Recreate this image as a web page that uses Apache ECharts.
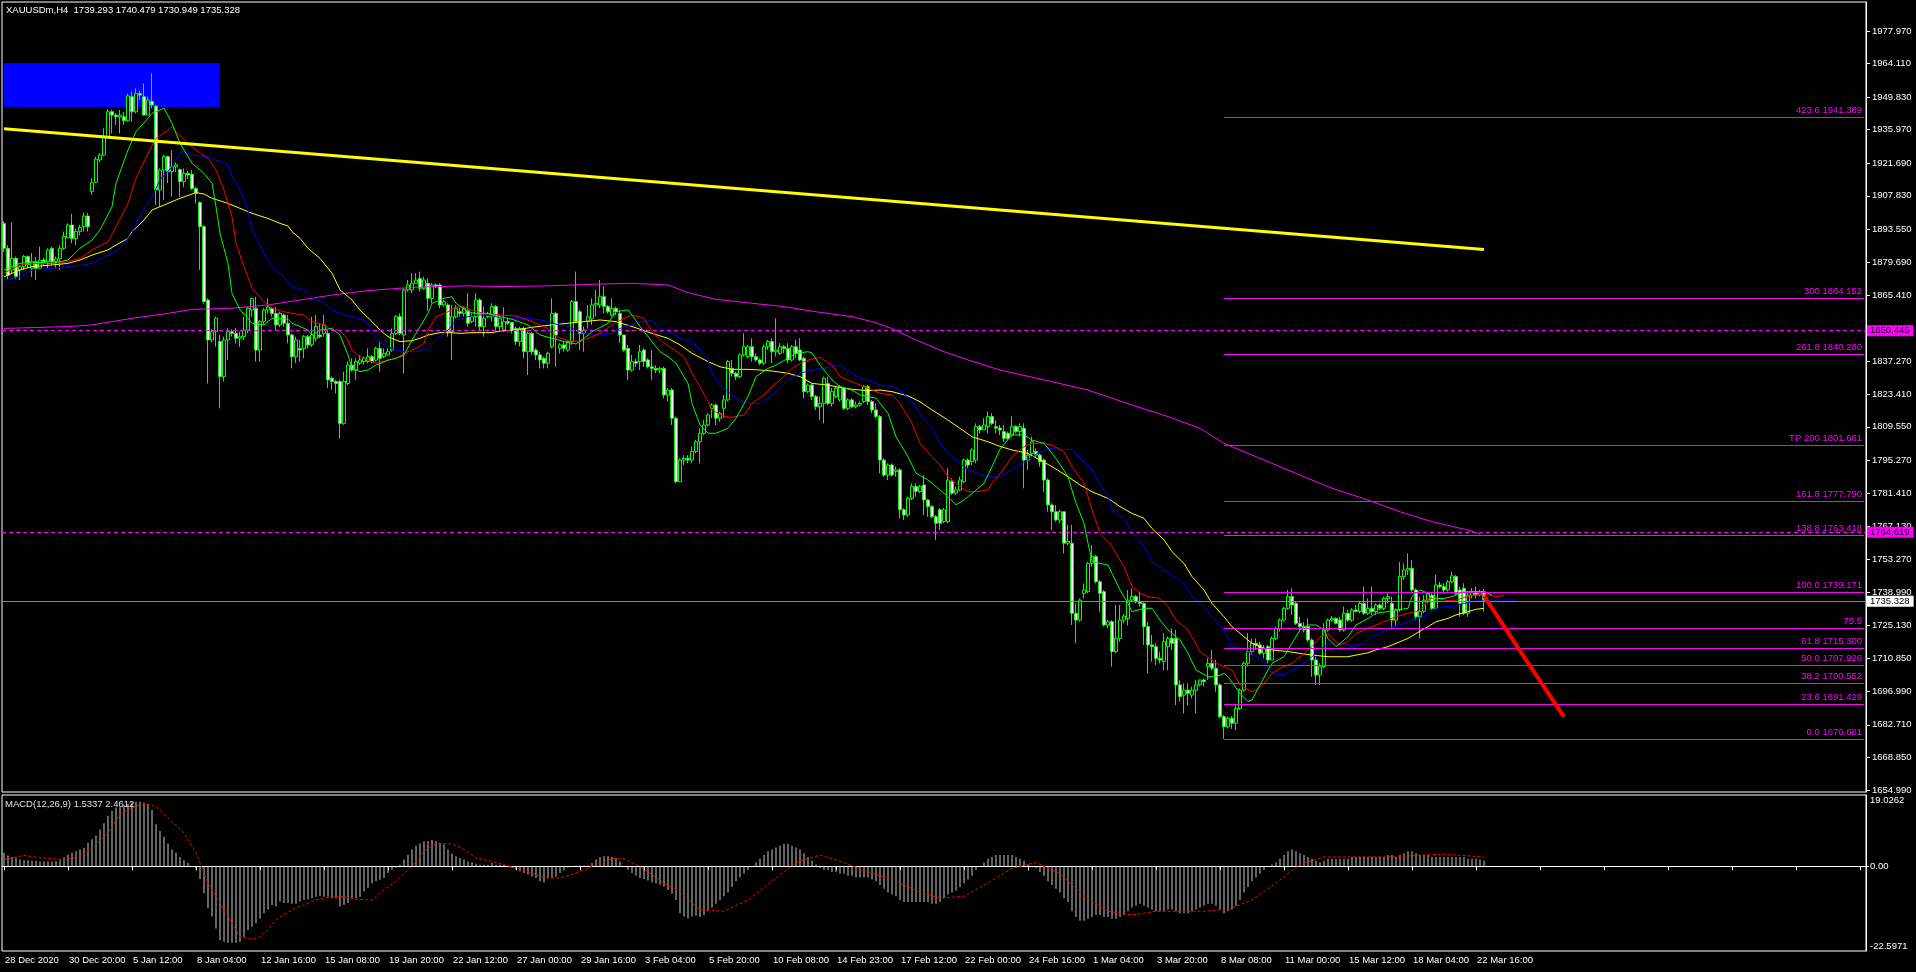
<!DOCTYPE html>
<html><head><meta charset="utf-8">
<script src="https://cdn.jsdelivr.net/npm/echarts@6/dist/echarts.min.js"></script>
<style>html,body{margin:0;padding:0;background:#000}#c{width:1916px;height:972px}</style>
</head><body><div id="c"></div>
<script>
const symbolName = 'XAUUSDm,H4';
const barCount = 466;
const dateLabels = ['28 Dec 2020','30 Dec 20:00','5 Jan 12:00','8 Jan 04:00','12 Jan 16:00','15 Jan 08:00','19 Jan 20:00','22 Jan 12:00','27 Jan 00:00','29 Jan 16:00','3 Feb 04:00','5 Feb 20:00','10 Feb 08:00','14 Feb 23:00','17 Feb 12:00','22 Feb 00:00','24 Feb 16:00','1 Mar 04:00','3 Mar 20:00','8 Mar 08:00','11 Mar 00:00','15 Mar 12:00','18 Mar 04:00','22 Mar 16:00'];
const priceTicks = [1977.970,1964.110,1949.830,1935.970,1921.690,1907.830,1893.550,1879.690,1865.410,1851.130,1837.270,1823.410,1809.550,1795.270,1781.410,1767.130,1753.270,1738.990,1725.130,1710.850,1696.990,1682.710,1668.850,1654.990];
const macdTicks = [-22.5971, 0, 19.0262];

// [open, close, low, high]
const candles = [
[1896.1,1885.5,1884.0,1897.0],[1885.5,1874.0,1872.0,1886.9],[1876.3,1881.2,1874.9,1896.6],[1881.2,1873.4,1872.5,1882.0],[1876.3,1877.7,1872.0,1878.4],
[1877.7,1882.0,1876.3,1882.7],[1882.0,1878.6,1877.0,1882.5],[1877.0,1879.8,1873.4,1883.4],[1879.8,1877.0,1872.0,1881.9],[1877.0,1880.5,1876.3,1886.2],
[1880.5,1879.8,1878.0,1881.5],[1879.8,1884.8,1877.0,1885.5],[1885.5,1879.8,1878.4,1886.2],[1879.8,1881.0,1877.0,1882.0],[1881.0,1885.5,1876.3,1886.9],
[1885.5,1890.5,1884.8,1892.6],[1890.0,1895.4,1889.7,1896.1],[1895.4,1889.7,1887.6,1900.1],[1889.7,1892.6,1886.9,1894.0],[1892.6,1894.4,1891.0,1895.5],
[1894.7,1899.2,1892.6,1900.7],[1899.2,1894.7,1892.6,1900.4],[1909.6,1913.4,1908.2,1915.3],[1913.6,1923.4,1913.2,1924.5],[1923.1,1925.2,1922.0,1926.0],
[1925.2,1933.0,1924.8,1936.6],[1933.0,1943.6,1932.3,1944.6],[1943.6,1942.2,1934.4,1944.4],[1942.2,1941.5,1938.0,1943.0],[1941.5,1942.2,1934.4,1944.4],
[1941.5,1939.8,1938.0,1943.6],[1939.8,1950.3,1939.4,1951.4],[1950.0,1943.6,1939.4,1952.2],[1943.6,1951.4,1942.9,1953.6],[1951.4,1950.7,1948.6,1952.6],
[1950.0,1942.2,1942.0,1955.7],[1942.2,1948.6,1942.2,1950.0],[1948.0,1946.5,1945.0,1960.0],[1946.0,1910.3,1904.0,1946.5],[1910.3,1918.8,1903.2,1919.5],
[1918.8,1924.5,1906.0,1925.2],[1924.5,1918.1,1913.2,1924.9],[1918.1,1920.2,1907.5,1927.3],[1920.2,1921.0,1918.0,1922.0],[1919.0,1913.9,1907.5,1919.5],
[1913.9,1917.4,1911.5,1919.5],[1917.4,1916.7,1915.0,1918.5],[1917.0,1911.0,1910.3,1918.8],[1911.0,1908.9,1904.6,1911.7],[1905.0,1894.7,1876.3,1905.5],
[1894.7,1862.8,1862.0,1895.4],[1863.5,1846.5,1828.0,1864.2],[1846.5,1850.0,1845.5,1851.0],[1850.0,1855.7,1843.7,1856.4],[1845.8,1830.9,1817.4,1848.6],
[1830.9,1846.5,1828.8,1847.9],[1846.5,1850.0,1838.0,1851.5],[1850.0,1849.3,1848.0,1851.0],[1849.3,1847.2,1845.0,1851.5],[1847.2,1847.9,1843.6,1850.0],
[1847.9,1850.7,1846.5,1856.4],[1850.7,1860.0,1849.3,1860.6],[1859.3,1864.2,1856.4,1864.5],[1860.0,1842.2,1837.3,1864.9],[1842.2,1854.3,1837.3,1855.0],
[1854.3,1859.3,1853.0,1860.0],[1859.3,1860.6,1857.8,1864.2],[1860.0,1857.8,1856.4,1860.6],[1857.8,1852.9,1850.7,1860.6],[1852.9,1857.8,1852.0,1858.5],
[1857.1,1853.6,1852.2,1857.8],[1853.6,1848.6,1845.1,1857.1],[1848.6,1839.4,1834.4,1849.3],[1839.4,1846.5,1836.6,1847.9],[1842.9,1842.2,1837.3,1846.5],
[1842.9,1847.9,1838.7,1848.6],[1847.9,1844.4,1842.9,1848.6],[1844.4,1848.6,1843.6,1856.4],[1847.2,1852.2,1845.8,1857.1],[1848.6,1847.9,1847.2,1853.6],
[1849.3,1852.9,1847.9,1857.1],[1849.3,1829.5,1826.0,1850.7],[1830.2,1828.8,1825.3,1831.0],[1828.8,1828.0,1823.8,1829.5],[1828.8,1811.0,1804.6,1829.5],
[1811.0,1828.8,1810.3,1833.0],[1828.0,1835.8,1827.3,1837.3],[1835.8,1833.7,1833.0,1838.7],[1833.7,1837.3,1829.5,1838.7],[1836.6,1838.0,1835.8,1840.1],
[1837.3,1838.7,1836.0,1839.5],[1837.3,1839.4,1836.6,1842.9],[1839.4,1837.3,1836.6,1840.1],[1837.9,1842.9,1837.3,1843.6],[1842.9,1838.7,1833.0,1845.8],
[1839.4,1840.8,1838.7,1842.9],[1840.1,1841.5,1840.1,1842.9],[1842.2,1849.3,1841.5,1851.4],[1849.3,1856.4,1848.6,1857.1],[1856.4,1849.3,1848.6,1857.8],
[1848.6,1867.8,1832.3,1868.5],[1867.8,1869.9,1867.1,1872.0],[1867.8,1870.6,1866.4,1874.9],[1870.6,1872.0,1870.6,1874.9],[1872.7,1868.5,1867.1,1875.6],
[1868.5,1872.0,1867.8,1873.4],[1870.6,1864.2,1858.9,1872.7],[1864.2,1869.9,1862.1,1870.6],[1869.9,1869.2,1868.5,1870.6],[1869.9,1861.4,1860.0,1870.6],
[1861.4,1862.8,1860.7,1863.5],[1861.4,1850.0,1847.9,1862.1],[1850.0,1856.4,1838.0,1861.4],[1856.4,1860.0,1855.7,1861.4],[1858.5,1857.8,1856.4,1860.0],
[1857.8,1860.0,1856.4,1860.7],[1858.9,1853.6,1852.2,1866.4],[1854.3,1856.4,1853.6,1857.8],[1856.4,1863.5,1852.2,1866.4],[1863.5,1852.2,1850.7,1864.2],
[1852.2,1855.7,1847.9,1860.7],[1856.4,1857.8,1855.7,1858.5],[1856.4,1860.7,1854.3,1862.1],[1860.7,1852.2,1850.7,1861.4],[1852.2,1855.7,1850.0,1857.0],
[1850.7,1854.3,1850.0,1860.4],[1854.3,1853.6,1852.9,1855.7],[1853.9,1850.7,1849.3,1854.3],[1851.4,1845.8,1844.4,1852.2],[1845.8,1851.4,1843.7,1852.2],
[1851.4,1841.5,1838.7,1852.2],[1841.5,1849.3,1831.6,1850.0],[1849.3,1841.5,1840.1,1850.0],[1842.2,1840.1,1838.0,1843.0],[1840.1,1838.0,1834.4,1841.5],
[1838.7,1836.6,1834.4,1839.4],[1836.6,1840.8,1834.4,1841.5],[1843.6,1857.8,1842.9,1864.2],[1857.8,1848.6,1835.1,1858.5],[1843.0,1844.4,1840.8,1845.1],
[1844.4,1843.0,1841.5,1845.8],[1842.2,1845.8,1841.5,1846.5],[1845.8,1862.8,1844.4,1863.5],[1862.8,1854.3,1853.6,1875.6],[1858.5,1849.3,1842.2,1859.3],
[1849.3,1850.7,1841.5,1852.2],[1854.3,1856.4,1851.4,1861.4],[1855.7,1861.4,1852.9,1864.2],[1861.4,1862.1,1856.4,1867.8],[1861.4,1864.9,1860.0,1872.0],
[1864.9,1860.7,1857.8,1869.2],[1860.7,1858.5,1857.8,1861.4],[1857.1,1859.9,1856.4,1864.2],[1859.9,1858.5,1857.1,1860.7],[1857.8,1848.6,1845.1,1859.3],
[1848.6,1842.2,1841.5,1848.6],[1842.9,1833.7,1829.5,1844.4],[1833.7,1837.3,1833.0,1840.1],[1837.3,1836.6,1835.0,1838.5],[1837.3,1841.5,1833.7,1844.4],
[1842.2,1837.3,1835.1,1842.9],[1838.0,1835.1,1834.4,1838.7],[1835.1,1834.4,1829.5,1842.2],[1834.4,1833.7,1832.3,1835.8],[1833.7,1834.4,1832.3,1835.1],
[1834.4,1823.1,1821.7,1835.1],[1823.1,1825.2,1820.3,1826.0],[1825.2,1813.2,1810.3,1826.0],[1813.2,1786.2,1785.5,1813.9],[1786.2,1795.4,1786.0,1796.1],
[1795.4,1796.1,1793.3,1797.5],[1796.1,1795.4,1794.0,1797.5],[1795.4,1799.0,1794.0,1801.1],[1799.0,1803.2,1798.3,1804.0],[1803.2,1806.8,1794.0,1808.9],
[1806.8,1810.3,1806.0,1812.4],[1810.3,1814.6,1809.6,1815.3],[1817.4,1818.8,1813.2,1819.5],[1818.8,1813.2,1810.3,1819.5],[1813.2,1815.3,1811.7,1816.0],
[1817.4,1821.0,1813.2,1823.1],[1821.0,1837.3,1820.3,1838.0],[1834.4,1832.3,1830.9,1838.0],[1832.3,1830.9,1829.5,1833.0],[1830.9,1840.1,1830.2,1840.8],
[1840.1,1843.6,1839.4,1849.3],[1839.4,1843.6,1838.7,1844.4],[1843.6,1839.4,1837.3,1847.2],[1839.4,1838.0,1837.3,1840.8],[1838.0,1836.6,1835.8,1838.7],
[1836.6,1843.6,1835.8,1844.4],[1843.6,1845.8,1842.2,1846.5],[1845.8,1841.5,1836.6,1847.2],[1841.5,1842.2,1839.4,1855.7],[1840.8,1843.6,1840.1,1845.1],
[1843.6,1842.9,1840.8,1844.4],[1842.9,1838.0,1836.6,1845.1],[1838.0,1843.6,1837.3,1844.4],[1843.6,1840.8,1838.7,1846.5],[1842.2,1838.0,1837.5,1847.2],
[1838.7,1824.5,1821.7,1839.4],[1824.5,1827.3,1823.8,1828.0],[1827.3,1822.4,1821.0,1828.0],[1822.4,1818.1,1816.7,1823.1],[1818.1,1819.5,1812.4,1822.4],
[1819.5,1830.2,1811.0,1830.9],[1828.0,1819.5,1818.8,1830.9],[1819.5,1824.5,1818.1,1826.0],[1822.4,1826.0,1821.7,1826.6],[1821.0,1826.6,1820.3,1827.3],
[1826.0,1817.4,1816.7,1826.6],[1817.4,1821.0,1816.7,1821.7],[1821.0,1818.1,1817.4,1821.7],[1818.1,1818.8,1817.4,1820.3],[1818.8,1819.5,1818.1,1820.3],
[1820.3,1826.6,1819.5,1827.3],[1826.6,1820.3,1818.8,1827.3],[1820.3,1816.7,1815.3,1821.0],[1816.7,1813.9,1813.2,1819.5],[1813.9,1795.4,1789.8,1814.6],
[1795.4,1789.0,1788.3,1796.1],[1789.0,1793.3,1786.9,1794.0],[1793.3,1789.0,1788.3,1794.0],[1790.5,1791.2,1788.3,1792.6],[1791.2,1774.2,1770.6,1791.9],
[1774.2,1772.0,1769.9,1774.9],[1772.0,1779.1,1771.3,1779.8],[1779.1,1784.1,1778.4,1785.5],[1784.1,1782.0,1779.8,1785.5],[1782.0,1784.1,1781.3,1784.8],
[1784.8,1778.4,1772.0,1789.0],[1778.4,1775.6,1771.3,1778.9],[1775.6,1771.3,1770.6,1776.3],[1771.3,1768.5,1761.4,1772.0],[1774.2,1768.5,1765.6,1774.9],
[1769.2,1774.2,1768.5,1775.0],[1769.2,1786.9,1768.5,1791.9],[1786.2,1781.3,1780.6,1787.6],[1781.3,1782.7,1780.6,1784.1],[1782.7,1786.9,1782.0,1788.3],
[1786.2,1795.4,1785.5,1796.1],[1795.4,1793.3,1792.0,1796.1],[1794.7,1799.7,1793.3,1800.4],[1795.4,1809.6,1794.0,1811.0],[1809.6,1808.2,1806.8,1810.3],
[1808.2,1810.3,1808.2,1813.2],[1809.6,1813.9,1806.8,1816.0],[1813.9,1811.0,1810.3,1815.3],[1809.6,1809.0,1806.8,1812.4],[1809.0,1808.2,1806.0,1810.3],
[1807.5,1804.6,1803.2,1810.3],[1806.8,1804.6,1803.9,1807.5],[1806.0,1809.6,1805.3,1813.9],[1809.6,1807.5,1806.8,1810.3],[1807.5,1809.6,1805.3,1811.0],
[1808.9,1795.4,1783.4,1811.0],[1795.4,1797.5,1791.2,1799.7],[1798.2,1803.2,1796.8,1805.3],[1799.0,1797.5,1796.8,1800.4],[1797.5,1794.7,1792.6,1798.2],
[1795.4,1786.9,1781.9,1796.1],[1786.9,1776.3,1773.4,1787.6],[1776.3,1773.4,1765.6,1777.0],[1773.4,1769.9,1769.2,1776.3],[1769.9,1773.4,1768.5,1774.2],
[1773.4,1760.0,1755.7,1773.4],[1760.0,1760.7,1759.2,1767.8],[1760.0,1730.2,1725.2,1767.8],[1730.2,1727.3,1717.4,1734.4],[1727.3,1735.8,1726.6,1736.5],
[1738.7,1740.1,1736.5,1742.9],[1739.4,1751.4,1738.7,1752.1],[1751.4,1754.3,1750.0,1759.2],[1754.3,1743.6,1742.9,1755.0],[1743.6,1738.7,1730.9,1744.4],
[1739.4,1725.2,1724.5,1740.1],[1725.2,1726.6,1723.8,1727.3],[1726.6,1713.9,1707.5,1727.3],[1713.9,1719.5,1713.2,1733.7],[1719.5,1727.3,1718.1,1733.7],
[1727.3,1729.0,1725.9,1730.0],[1728.0,1735.8,1725.0,1740.1],[1735.8,1737.3,1735.0,1740.8],[1737.3,1735.1,1734.4,1738.0],[1735.1,1734.4,1733.0,1739.4],
[1734.4,1724.5,1716.7,1734.9],[1724.5,1716.7,1704.6,1726.6],[1716.7,1716.0,1709.6,1721.0],[1716.0,1711.0,1708.2,1717.4],[1711.0,1710.3,1708.9,1713.9],
[1709.6,1718.1,1706.0,1721.7],[1716.0,1719.5,1706.0,1720.3],[1719.5,1717.4,1714.6,1723.8],[1719.5,1699.7,1691.1,1723.1],[1699.7,1694.7,1692.6,1701.7],
[1695.4,1697.5,1687.6,1700.4],[1697.5,1696.1,1691.1,1700.4],[1695.4,1697.5,1694.0,1699.0],[1697.5,1699.7,1687.6,1701.8],[1699.7,1701.8,1699.0,1702.0],
[1701.8,1701.1,1699.0,1702.5],[1707.5,1708.9,1701.8,1711.0],[1708.9,1706.8,1706.0,1714.6],[1706.8,1699.7,1696.8,1710.3],[1699.7,1686.2,1685.5,1700.4],
[1686.2,1681.9,1676.7,1686.9],[1681.9,1685.5,1681.2,1686.2],[1685.5,1683.4,1681.0,1686.5],[1683.4,1689.7,1680.5,1691.1],[1689.7,1697.5,1689.0,1698.2],
[1697.5,1708.9,1696.8,1709.6],[1708.9,1713.9,1707.5,1721.7],[1713.9,1717.4,1712.5,1719.5],[1717.4,1716.7,1714.6,1719.5],[1716.7,1713.2,1712.5,1718.1],
[1713.2,1715.3,1711.0,1716.7],[1716.0,1710.3,1708.9,1716.7],[1710.3,1719.5,1710.3,1720.3],[1719.5,1723.8,1718.8,1724.5],[1723.8,1727.3,1722.4,1728.0],
[1727.3,1732.3,1726.6,1733.0],[1732.3,1737.3,1731.6,1740.1],[1737.3,1733.7,1729.5,1740.8],[1734.4,1725.9,1725.2,1735.1],[1725.9,1724.5,1722.4,1728.7],
[1724.5,1723.1,1722.0,1726.5],[1724.5,1718.8,1718.1,1728.0],[1718.8,1710.3,1703.2,1719.5],[1710.3,1703.9,1699.7,1711.7],[1703.9,1707.5,1699.7,1708.9],
[1707.5,1723.1,1706.8,1725.9],[1723.1,1727.3,1722.4,1728.0],[1727.3,1728.0,1726.5,1729.0],[1728.0,1725.9,1725.5,1728.5],[1727.3,1723.1,1722.4,1728.7],
[1723.1,1730.2,1722.4,1733.0],[1730.2,1727.3,1726.6,1731.6],[1727.3,1731.6,1726.6,1732.3],[1731.6,1731.0,1730.5,1733.7],[1731.0,1734.4,1730.2,1735.1],
[1734.4,1730.2,1729.5,1741.5],[1730.2,1732.3,1729.5,1736.5],[1732.3,1730.9,1729.5,1741.5],[1730.9,1733.7,1729.5,1734.4],[1733.7,1732.3,1731.6,1734.4],
[1732.3,1736.5,1731.6,1737.3],[1736.5,1737.3,1734.4,1738.7],[1734.4,1727.3,1723.8,1737.3],[1727.3,1731.6,1724.5,1732.3],[1731.6,1745.8,1730.9,1752.1],
[1745.8,1748.6,1744.4,1751.4],[1748.6,1749.3,1746.5,1755.7],[1749.3,1740.1,1739.4,1752.8],[1740.1,1728.7,1727.3,1740.8],[1728.7,1731.0,1719.5,1737.3],
[1731.0,1735.8,1730.2,1737.9],[1735.8,1738.7,1734.4,1739.4],[1737.9,1732.3,1731.6,1738.7],[1732.3,1742.2,1731.6,1746.5],[1742.2,1741.5,1740.8,1743.6],
[1741.5,1740.1,1738.7,1742.9],[1740.1,1743.6,1739.4,1744.4],[1743.6,1746.1,1742.9,1747.9],[1745.8,1738.7,1738.0,1746.5],[1740.1,1734.4,1728.7,1741.5],
[1740.8,1730.2,1729.5,1743.0],[1730.2,1737.9,1728.7,1738.7],[1737.9,1739.4,1736.5,1740.8],[1739.4,1738.0,1736.5,1741.5],[1738.0,1739.3,1737.3,1740.1],
[1739.293,1735.328,1730.949,1740.479]
];

// moving averages [barIndex, price]
const maGreen = [[0,1876.3],[4,1879.1],[7,1879.7],[12,1879.1],[16,1880.5],[19,1885.5],[22,1889.0],[24,1893.3],[27,1903.2],[28,1913.2],[31,1927.3],[33,1935.1],[36,1940.8],[37,1942.9],[40,1945.1],[42,1938.7],[44,1930.2],[47,1921.7],[50,1917.4],[52,1913.2],[53,1903.2],[54,1891.9],[56,1879.1],[57,1866.3],[59,1859.3],[61,1855.7],[62,1853.6],[65,1852.9],[67,1855.7],[71,1855.3],[72,1853.6],[74,1852.2],[76,1850.7],[77,1848.6],[79,1850.7],[82,1851.4],[84,1848.6],[86,1840.1],[87,1834.4],[89,1833.0],[91,1833.7],[93,1835.8],[96,1837.9],[98,1838.7],[100,1840.1],[102,1846.5],[104,1852.2],[106,1857.8],[107,1862.1],[110,1864.2],[112,1864.9],[113,1862.1],[116,1858.5],[118,1857.8],[121,1857.8],[124,1856.4],[127,1855.3],[131,1852.9],[134,1848.6],[137,1847.2],[141,1845.4],[143,1844.8],[145,1847.2],[147,1850.0],[151,1853.6],[153,1858.5],[156,1859.3],[157,1857.1],[159,1852.2],[162,1845.8],[164,1841.5],[166,1839.4],[168,1836.6],[171,1828.0],[172,1819.5],[174,1810.3],[176,1806.8],[178,1806.8],[181,1808.9],[183,1813.2],[186,1822.4],[188,1830.9],[191,1834.4],[193,1835.8],[196,1838.7],[198,1840.8],[201,1841.5],[202,1841.0],[204,1835.8],[207,1829.5],[209,1826.6],[212,1825.2],[214,1823.1],[216,1822.4],[218,1821.7],[221,1815.3],[223,1805.3],[226,1796.8],[228,1789.8],[231,1786.9],[233,1784.1],[236,1779.8],[238,1776.3],[240,1778.4],[242,1781.2],[245,1785.5],[247,1792.6],[249,1800.0],[252,1806.1],[255,1806.1],[257,1803.9],[260,1802.5],[263,1796.1],[266,1788.3],[268,1777.0],[270,1768.5],[271,1760.0],[272,1752.2],[274,1751.4],[276,1750.7],[277,1747.2],[279,1740.1],[281,1734.4],[282,1730.9],[285,1732.3],[287,1732.3],[289,1727.3],[291,1723.1],[294,1718.8],[296,1713.1],[298,1706.1],[301,1703.2],[303,1703.2],[305,1704.6],[306,1703.2],[309,1696.1],[311,1692.6],[312,1693.3],[314,1699.7],[316,1706.1],[317,1708.9],[320,1711.7],[321,1714.6],[324,1723.1],[326,1725.2],[328,1725.2],[330,1723.1],[331,1719.5],[333,1716.0],[336,1720.2],[338,1725.2],[341,1728.0],[343,1730.2],[346,1730.9],[348,1731.6],[351,1732.3],[352,1737.3],[354,1740.1],[356,1738.7],[357,1736.5],[360,1736.5],[362,1737.3],[365,1739.4],[367,1739.4],[370,1739.4],[372,1738.0]];
const maRed = [[0,1874.9],[4,1878.4],[7,1879.1],[12,1879.1],[16,1879.8],[19,1881.2],[22,1884.8],[26,1888.3],[28,1894.7],[31,1904.6],[33,1915.3],[36,1925.9],[38,1932.3],[41,1935.8],[42,1937.3],[43,1935.1],[46,1930.2],[48,1927.3],[51,1923.8],[53,1918.8],[55,1910.3],[57,1899.0],[58,1887.6],[60,1877.7],[62,1868.5],[65,1862.8],[67,1860.0],[70,1858.5],[72,1857.8],[75,1857.1],[77,1854.3],[80,1852.9],[82,1850.7],[84,1850.7],[86,1846.5],[87,1842.2],[89,1839.4],[91,1837.9],[93,1836.6],[96,1837.9],[98,1838.7],[101,1841.5],[103,1842.9],[105,1845.1],[106,1850.7],[108,1856.4],[111,1858.5],[113,1860.6],[115,1860.6],[117,1859.2],[120,1857.8],[124,1857.1],[128,1856.7],[132,1854.3],[136,1851.4],[138,1847.9],[141,1846.2],[144,1845.8],[147,1847.9],[149,1849.3],[152,1852.9],[155,1855.7],[157,1857.1],[160,1855.7],[162,1850.0],[165,1845.1],[167,1842.9],[170,1839.4],[172,1832.3],[174,1826.6],[176,1820.2],[177,1816.7],[180,1813.9],[182,1813.6],[185,1814.6],[187,1819.5],[190,1823.1],[192,1826.6],[195,1830.9],[197,1834.4],[200,1837.3],[202,1838.3],[204,1839.1],[207,1835.8],[209,1830.9],[212,1828.7],[214,1827.3],[217,1825.2],[219,1823.8],[222,1823.1],[224,1819.5],[227,1811.0],[229,1802.5],[232,1796.8],[234,1793.3],[236,1788.3],[239,1784.1],[241,1781.9],[243,1781.9],[246,1782.7],[247,1785.5],[249,1789.5],[252,1796.8],[255,1801.1],[257,1802.5],[260,1802.5],[262,1801.8],[265,1798.9],[267,1792.6],[270,1785.5],[272,1774.1],[274,1764.2],[276,1760.7],[277,1758.5],[280,1750.0],[282,1741.5],[284,1738.7],[286,1737.3],[289,1736.5],[291,1733.0],[293,1727.3],[296,1723.1],[299,1713.9],[302,1710.3],[304,1708.2],[307,1706.0],[309,1699.7],[312,1696.8],[313,1697.5],[315,1700.4],[317,1704.6],[319,1706.8],[322,1708.9],[324,1711.7],[327,1716.0],[329,1720.2],[331,1721.4],[332,1719.5],[334,1716.7],[336,1718.1],[338,1721.6],[341,1723.8],[343,1725.2],[346,1727.3],[348,1728.7],[351,1730.2],[353,1730.9],[355,1733.0],[356,1736.5],[358,1736.5],[361,1735.6],[363,1735.8],[366,1737.3],[368,1738.0],[371,1738.0],[373,1737.3],[375,1737.7]];
const maBlue = [[0,1872.0],[4,1873.4],[7,1876.3],[12,1877.0],[16,1877.7],[20,1878.4],[22,1879.1],[26,1882.6],[29,1885.5],[32,1891.9],[34,1899.7],[37,1907.5],[39,1914.6],[42,1920.2],[44,1925.9],[45,1926.6],[47,1925.2],[51,1924.5],[53,1923.1],[56,1920.9],[57,1916.0],[59,1910.3],[61,1901.8],[62,1893.3],[65,1883.4],[67,1877.7],[70,1873.4],[72,1869.2],[75,1867.8],[77,1864.9],[80,1862.1],[82,1859.2],[85,1857.1],[87,1856.4],[90,1855.0],[92,1851.4],[93,1846.5],[96,1843.6],[98,1842.2],[101,1841.5],[103,1841.5],[106,1842.9],[108,1846.5],[111,1850.7],[113,1855.0],[116,1856.4],[118,1857.1],[121,1857.1],[124,1856.0],[127,1855.7],[131,1855.7],[134,1855.0],[137,1853.6],[141,1852.2],[144,1850.0],[147,1848.6],[149,1848.6],[152,1849.3],[154,1851.4],[157,1852.9],[159,1854.3],[162,1854.7],[164,1851.4],[167,1849.3],[169,1847.2],[172,1845.8],[174,1842.2],[176,1838.0],[177,1832.3],[179,1827.3],[182,1823.1],[184,1820.9],[186,1819.5],[189,1819.5],[191,1821.7],[194,1825.9],[196,1829.5],[199,1832.3],[202,1833.7],[204,1834.4],[207,1835.1],[209,1835.8],[212,1832.3],[214,1830.2],[217,1828.8],[219,1827.3],[222,1826.6],[224,1825.2],[227,1820.2],[229,1815.3],[232,1808.9],[234,1802.5],[236,1798.3],[239,1794.0],[241,1791.2],[244,1789.5],[246,1788.3],[249,1788.0],[251,1790.4],[254,1793.3],[257,1796.8],[259,1798.9],[262,1800.4],[264,1799.7],[267,1800.0],[269,1796.1],[272,1791.2],[274,1784.8],[276,1779.8],[277,1774.1],[280,1770.6],[282,1764.9],[285,1758.5],[287,1752.2],[290,1748.6],[292,1746.5],[295,1742.9],[297,1737.3],[300,1733.0],[302,1728.7],[305,1723.1],[307,1716.0],[310,1715.3],[312,1713.1],[315,1709.6],[317,1704.6],[320,1703.9],[322,1706.0],[325,1708.9],[327,1711.7],[330,1716.0],[332,1717.4],[335,1717.4],[337,1716.0],[340,1717.4],[342,1720.2],[345,1722.4],[347,1724.5],[350,1725.9],[352,1727.3],[355,1728.7],[357,1731.6],[360,1733.0],[362,1733.0],[365,1734.4],[367,1735.1],[370,1735.8],[373,1735.8],[378,1735.8]];
const maYellow = [[0,1873.4],[4,1876.3],[7,1877.7],[12,1878.4],[16,1879.1],[19,1880.5],[22,1882.6],[26,1884.8],[28,1886.9],[31,1889.7],[32,1892.6],[35,1897.5],[37,1901.8],[41,1904.6],[44,1906.8],[47,1908.6],[48,1909.2],[50,1908.6],[52,1906.8],[56,1904.6],[59,1902.5],[62,1900.4],[66,1898.2],[69,1896.1],[71,1895.0],[72,1892.6],[74,1889.7],[76,1885.5],[79,1881.2],[82,1874.9],[84,1867.8],[87,1863.5],[89,1859.2],[92,1854.3],[94,1850.7],[96,1847.9],[99,1845.8],[102,1846.2],[104,1847.2],[106,1848.6],[109,1849.6],[112,1849.6],[114,1849.3],[117,1849.6],[122,1849.6],[124,1850.3],[128,1850.7],[132,1851.9],[137,1852.9],[141,1853.6],[145,1854.3],[149,1855.0],[153,1854.3],[157,1852.2],[162,1849.3],[166,1847.2],[169,1844.4],[172,1840.8],[176,1837.3],[179,1835.1],[182,1834.0],[186,1834.0],[189,1833.7],[192,1833.3],[196,1832.3],[199,1830.9],[202,1828.0],[206,1827.3],[209,1826.3],[212,1825.5],[216,1824.9],[219,1825.2],[222,1824.5],[226,1822.7],[229,1820.2],[232,1816.7],[236,1812.4],[239,1808.9],[242,1805.3],[246,1803.2],[249,1801.2],[252,1799.7],[256,1798.2],[259,1795.4],[262,1792.6],[266,1788.3],[269,1784.8],[272,1781.9],[276,1779.1],[279,1775.6],[282,1772.7],[285,1770.6],[287,1766.3],[290,1761.4],[292,1756.4],[295,1751.4],[297,1745.8],[300,1740.1],[302,1734.4],[305,1728.7],[307,1724.5],[310,1720.2],[312,1717.4],[315,1715.3],[317,1714.6],[321,1713.9],[324,1713.1],[327,1712.4],[331,1711.7],[336,1711.7],[338,1712.4],[341,1713.4],[343,1714.6],[346,1716.0],[348,1717.4],[351,1719.5],[353,1721.6],[356,1724.5],[358,1726.6],[361,1728.0],[363,1729.5],[366,1730.9],[368,1731.9],[370,1732.3]];
const maMagenta = [[0,1851.4],[16,1852.2],[22,1852.9],[32,1855.7],[41,1857.8],[47,1859.5],[57,1860.0],[66,1861.4],[74,1863.5],[82,1865.6],[91,1867.5],[99,1868.5],[107,1869.2],[116,1869.5],[124,1869.2],[136,1869.5],[149,1870.3],[157,1870.6],[166,1869.9],[171,1866.6],[178,1863.8],[187,1862.1],[195,1860.7],[203,1858.5],[212,1856.4],[217,1854.3],[222,1851.4],[228,1846.5],[235,1841.5],[241,1838.0],[249,1833.7],[260,1829.5],[271,1825.2],[282,1818.8],[291,1813.9],[299,1808.9],[305,1802.5],[316,1794.7],[324,1789.0],[332,1783.4],[341,1778.4],[349,1773.4],[357,1769.2],[366,1765.6],[369,1763.9]];

// MACD(12,26,9) main (histogram) and signal
const macdMain = [3.6,2.9,2.5,2.2,1.8,1.6,1.6,1.5,1.5,1.3,
1.3,1.3,1.3,1.4,1.6,2.4,3.1,3.6,4.0,4.5,
4.9,6.3,7.2,8.2,9.8,11.5,13.4,14.8,15.7,15.9,
16.3,16.6,17.0,17.2,17.2,17.0,16.6,15.0,11.2,9.4,
7.9,6.1,4.5,3.6,2.5,1.6,0.9,0.1,-0.9,-3.4,
-7.2,-11.2,-13.4,-16.6,-19.7,-20.1,-20.4,-20.4,-20.4,-20.1,
-18.8,-17.0,-16.1,-15.2,-13.9,-12.5,-11.5,-10.3,-10.7,-9.4,
-9.8,-9.8,-10.0,-10.0,-9.4,-9.0,-8.8,-8.5,-8.1,-7.9,
-8.1,-8.1,-8.5,-8.5,-10.7,-10.3,-9.8,-8.5,-8.5,-8.1,
-6.7,-5.8,-4.5,-4.0,-3.6,-3.1,-1.8,-0.9,-0.4,0.4,
1.8,3.1,4.5,5.5,6.1,6.7,6.7,7.0,6.7,6.3,
5.8,4.5,3.4,2.7,2.2,1.8,1.3,1.1,0.7,0.4,
0.4,0.4,0.9,0.4,0.4,0.4,0.0,-0.4,-0.9,-1.3,
-1.8,-2.2,-2.7,-3.1,-4.0,-4.3,-3.1,-3.1,-2.7,-1.8,
-1.1,-0.4,0.0,0.2,0.2,0.2,0.2,0.9,1.8,2.5,
2.7,2.7,2.5,2.2,1.3,0.0,-0.9,-1.8,-2.5,-3.1,
-3.4,-3.8,-4.3,-4.5,-4.9,-5.4,-6.3,-7.3,-9.0,-12.5,
-13.4,-13.9,-13.4,-13.2,
-13.5,-13,-12,-11,-10,-9,
-8,-7,-5.5,-4,-3,-2,-1,0,1,2,
3,4,4.5,5,5.5,6,6,5.5,5,4.5,
3.5,2.5,1.5,0.5,-0.5,-1,-1,-1.5,-1.5,-2,
-2,-2.5,-2.5,-3,-3,-3,-3,-3.5,-4,-5,
-6,-7,-7.5,-8,-9,-9.5,-9.5,-9.5,-9.5,-9.5,
-9.5,-9.5,-10,-10,-9.5,-8.5,-7.5,-7,-6.5,-5.5,
-4.5,-3.5,-2.5,-1,0,1,2,2.5,3,3,
3,3,3,2.5,2,1.5,0.5,0,-0.5,-1.5,
-2.5,-4,-5,-6,-7,-8.5,-9.5,-12,-13.5,-14.5,
-14.5,-14,-13.5,-13,-13,-13.5,-13.5,-14,-14,-13.5,
-13,-12,-11,-10.5,-10,-10.5,-11,-11.5,-12,-12,
-12,-11.5,-11.5,-12,-12.5,-12.5,-12.5,-12,-11.5,-11,
-10.5,-10,-10,-10.5,-11.5,-12.5,-12,-11.5,-10.5,-9,
-7,-5.5,-4,-3,-2,-1,0,0.5,1,2,
3,4,4.5,4,3.5,3,2.5,2,1.5,1,
1.5,2,2,2,2,2,2,2.5,2.5,2.5,
2.5,2.5,2.5,2.5,2.5,2.5,3,3,2.5,3,
3.5,4,4,3.5,3,3,3,2.5,2.5,2.5,
2.5,2.5,2.5,2.5,2.5,2.5,2,2,2,1.8,1.5337];
const macdSignal = [[0,1.8],[5,2.9],[10,2.2],[15,1.8],[19,2.5],[22,4.9],[26,8.9],[29,13.9],[33,16.1],[36,16.6],[38,15.9],[41,13.0],[45,8.9],[48,3.6],[51,-4.5],[55,-11.6],[57,-15.2],[59,-18.8],[62,-19.5],[64,-18.8],[66,-17.0],[68,-14.3],[72,-11.6],[75,-10.3],[78,-9.0],[82,-8.1],[85,-8.1],[88,-8.8],[92,-9.0],[95,-6.3],[98,-4.0],[102,0],[105,4.0],[108,6.1],[112,6.0],[115,4.5],[118,2.2],[122,1.3],[125,0.4],[128,-0.4],[132,-1.8],[135,-3.1],[139,-3.1],[142,-2.2],[145,-0.9],[149,0.9],[152,2.1],[155,2.0],[159,0],[162,-2.2],[165,-4.5],[169,-6.7],[172,-9.8],[174,-11.6],[180,-12],[186,-9],[192,-4],[198,1],[204,3],[210,1],[216,-1.5],[222,-3.5],[228,-6.5],[234,-8.5],[240,-8],[246,-4.5],[252,-0.5],[258,1],[264,-2],[270,-8],[276,-12],[282,-13],[288,-12],[294,-12],[300,-12],[306,-11.5],[312,-9],[318,-4.5],[324,0.5],[330,2.5],[336,2.5],[342,2.5],[348,2.5],[354,3],[360,3.2],[366,2.8],[370,2.4612]];

// objects
const trendLine = [[0,1936.4],[370,1885.0]];
const supplyZone = {from:0, to:54, top:1964.4, bottom:1945.6};
const fibStart = 305;
const fibNames = ['423.6 1941.389','300 1864.152','261.8 1840.280','TP 200 1801.661','161.8 1777.790','138.8 1763.418','100.0 1739.171','75.5','61.8 1715.300','50.0 1707.926','38.2 1700.552','23.6 1691.429','0.0 1676.681'];
const fibValues = [1941.389,1864.152,1840.280,1801.661,1777.790,1763.418,1739.171,1723.860,1715.300,1707.926,1700.552,1691.429,1676.681];
const dashedLevels = [1850.445, 1764.619];
const bidPrice = 1735.328;
const arrowPath = [[370,1737.6],[380,1711.6],[390,1686.1]];

const FONT = 'Liberation Sans';
const cats = Array.from({length: barCount}, (_, i) => i);
const last = candles[candles.length - 1];
// MT4 header shows Open High Low Close
const titleText = symbolName + '  ' + [last[0], last[3], last[2], last[1]].map(v => v.toFixed(3)).join(' ');
const macdText = 'MACD(12,26,9) ' + macdMain[macdMain.length-1].toFixed(4) + ' ' + macdSignal[macdSignal.length-1][1].toFixed(4);

const chart = echarts.init(document.getElementById('c'), null, {renderer: 'canvas'});
const maLine = (data, color, z) => ({type:'line', data, xAxisIndex:0, yAxisIndex:0, showSymbol:false, symbol:'none', smooth:false, z, silent:true, lineStyle:{color, width:1}});

const option = {
  backgroundColor: '#000',
  animation: false,
  title: [
    {text: titleText, left: 6, top: 5, padding: 0, textStyle: {color:'#fff', fontSize: 9.5, fontWeight:'normal', fontFamily: FONT}},
    {text: macdText, left: 5, top: 799, padding: 0, textStyle: {color:'#e0e0e0', fontSize: 9.5, fontWeight:'normal', fontFamily: FONT}}
  ],
  grid: [
    {left: 2, top: 2, width: 1864, height: 790, show: true, borderColor: '#fff', borderWidth: 1, backgroundColor: 'transparent'},
    {left: 2, top: 795, width: 1864, height: 156, show: true, borderColor: '#fff', borderWidth: 1, backgroundColor: 'transparent'}
  ],
  xAxis: [
    {type:'category', gridIndex:0, data: cats, boundaryGap: true, axisLine:{show:false}, axisTick:{show:false}, axisLabel:{show:false}, splitLine:{show:false}},
    {type:'category', gridIndex:1, data: cats, boundaryGap: true, axisLine:{show:true, lineStyle:{color:'#fff'}},
      axisTick:{show:true, interval:15, alignWithLabel:true, length:4, lineStyle:{color:'#fff'}},
      axisLabel:{show:true, interval:15, margin:4, align:'left', padding:[0,0,0,1], color:'#fff', fontSize:9.5, fontFamily: FONT,
        formatter: (v, idx) => dateLabels[Math.round(idx/16)] || ''},
      splitLine:{show:false}}
  ],
  yAxis: [
    {type:'value', gridIndex:0, position:'right', min:1654.14, max:1990.31, scale:true,
      axisLine:{show:true, lineStyle:{color:'#fff'}},
      axisTick:{show:true, length:4, lineStyle:{color:'#fff'}, customValues: priceTicks},
      axisLabel:{show:true, margin:6, color:'#fff', fontSize:9.5, fontFamily: FONT, customValues: priceTicks, formatter: v => v.toFixed(3)},
      splitLine:{show:false}},
    {type:'value', gridIndex:1, position:'right', min: macdTicks[0], max: macdTicks[2],
      axisLine:{show:true, lineStyle:{color:'#fff'}},
      axisTick:{show:true, length:3, lineStyle:{color:'#fff'}, customValues: [0]},
      axisLabel:{show:true, margin:4, color:'#fff', fontSize:9.5, fontFamily: FONT, customValues: macdTicks,
        verticalAlignMaxLabel:'top', verticalAlignMinLabel:'bottom',
        formatter: v => (v === 0 ? '0.00' : v.toFixed(4))},
      splitLine:{show:false}}
  ],
  series: [
    {type:'line', name:'zone', xAxisIndex:0, yAxisIndex:0, data:[], z:1, silent:true,
      markArea:{silent:true, itemStyle:{color:'#0000ff', opacity:1}, data:[[{coord:[supplyZone.from, supplyZone.top]},{coord:[supplyZone.to, supplyZone.bottom]}]]}},
    {type:'candlestick', xAxisIndex:0, yAxisIndex:0, data: candles, barWidth: 3, z:3, silent:true,
      itemStyle:{color:'#000', color0:'#fff', borderColor:'#00ff00', borderColor0:'#00ff00', borderWidth:1}},
    maLine(maMagenta, '#ff00ff', 4),
    maLine(maYellow, '#ffff00', 4),
    maLine(maBlue, '#0000ff', 4),
    maLine(maRed, '#ff0000', 4),
    maLine(maGreen, '#00ff00', 4),
    {type:'line', xAxisIndex:0, yAxisIndex:0, data: trendLine, symbol:'none', z:5, silent:true, lineStyle:{color:'#ffff00', width:3}},
    {type:'line', xAxisIndex:0, yAxisIndex:0, data: [], z:6, silent:true,
      markLine:{silent:true, symbol:['none','none'], animation:false,
        lineStyle:{color:'#ff00ff', width:1, type:'solid'},
        label:{show:true, position:'insideEndTop', distance:[2,2], color:'#ff00ff', fontSize:9.5, fontFamily: FONT, formatter: p => p.name},
        data: fibValues.map((v, k) => [{coord:[fibStart, v], name: fibNames[k]}, {coord:[barCount-1, v]}])}},
    {type:'line', xAxisIndex:0, yAxisIndex:0, data: [], z:8, silent:true,
      markLine:{silent:true, symbol:['none','none'], animation:false,
        data: [
          ...dashedLevels.map(v => ({yAxis: v, lineStyle:{color:'#ff00ff', width:1, type:[4,3]},
            label:{show:true, position:'end', distance:1, formatter: v.toFixed(3), backgroundColor:'#ff00ff', color:'#000', padding:[1,4,0,3], fontSize:9.5, fontFamily: FONT}})),
          {yAxis: bidPrice, lineStyle:{color:'#778899', width:1, type:'solid'},
            label:{show:true, position:'end', distance:1, formatter: bidPrice.toFixed(3), backgroundColor:'#fff', color:'#000', padding:[1,4,0,3], fontSize:9.5, fontFamily: FONT}}
        ]}},
    {type:'line', xAxisIndex:0, yAxisIndex:0, data: arrowPath, z:9, silent:true, symbol:'rect', symbolSize:6, showSymbol:true,
      itemStyle:{color:'#ff0000'}, lineStyle:{color:'#ff0000', width:4}},
    {type:'bar', xAxisIndex:1, yAxisIndex:1, data: macdMain, barWidth:1, silent:true, itemStyle:{color:'#c8c8c8'}},
    {type:'line', xAxisIndex:1, yAxisIndex:1, data: macdSignal, symbol:'none', silent:true, z:4, lineStyle:{color:'#ff0000', width:1, type:[3,2]}}
  ]
};
chart.setOption(option);
</script>
</body></html>
